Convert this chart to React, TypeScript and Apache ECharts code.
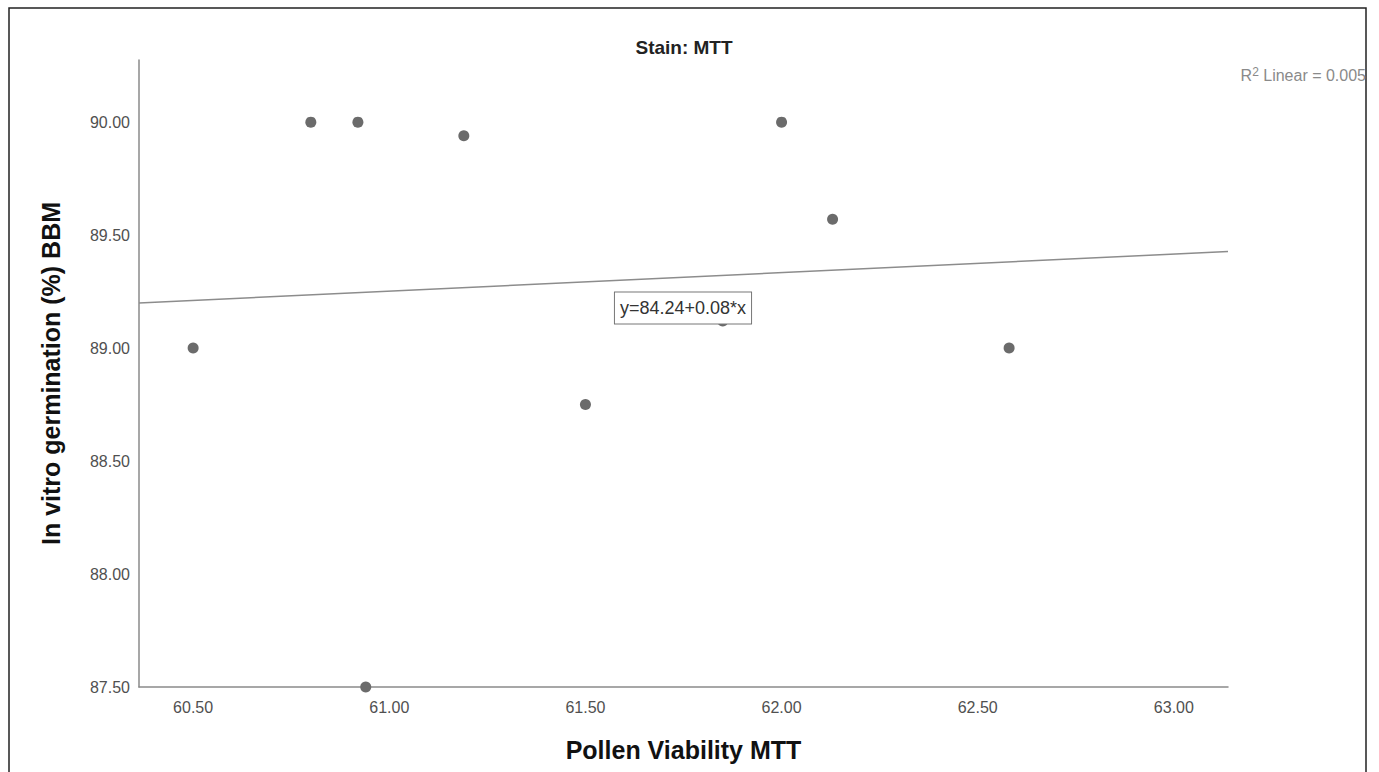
import React, { useEffect, useRef } from "react";
import * as echarts from "echarts";

const pollenViability: number[] = [60.5, 60.8, 60.92, 61.19, 62.0, 62.13, 61.5, 61.85, 62.58, 60.94];
const germination: number[] = [89.0, 90.0, 90.0, 89.94, 90.0, 89.57, 88.75, 89.12, 89.0, 87.5];
const xTicks: number[] = [60.5, 61.0, 61.5, 62.0, 62.5, 63.0];
const yTicks: number[] = [87.5, 88.0, 88.5, 89.0, 89.5, 90.0];
const xRange: number[] = [60.362, 63.138];
const yRange: number[] = [87.5, 90.275];
const titleText = "Stain: MTT";
const equationText = "y=84.24+0.08*x";
const rSquaredValue = "0.005";

const FONT = "Liberation Sans, Arial, sans-serif";

function regression(xs: number[], ys: number[]) {
  const n = xs.length;
  const mx = xs.reduce((a, b) => a + b, 0) / n;
  const my = ys.reduce((a, b) => a + b, 0) / n;
  let sxy = 0;
  let sxx = 0;
  for (let i = 0; i < n; i++) {
    sxy += (xs[i] - mx) * (ys[i] - my);
    sxx += (xs[i] - mx) * (xs[i] - mx);
  }
  const slope = sxy / sxx;
  return { slope, intercept: my - slope * mx };
}

export default function App() {
  const ref = useRef<HTMLDivElement>(null);
  useEffect(() => {
    if (!ref.current) return;
    const chart = echarts.init(ref.current, undefined, { renderer: "svg" });
    const { slope, intercept } = regression(pollenViability, germination);
    const fitLine = xRange.map((x) => [x, intercept + slope * x]);
    chart.setOption({
      animation: false,
      backgroundColor: "#ffffff",
      title: {
        text: titleText,
        left: 679,
        top: 33,
        textAlign: "center",
        textStyle: { fontFamily: FONT, fontSize: 19, fontWeight: "bold", color: "#222" },
      },
      grid: { left: 139, right: 151, top: 60, bottom: 85 },
      xAxis: {
        type: "value",
        min: xRange[0],
        max: xRange[1],
        name: "Pollen Viability MTT",
        nameLocation: "middle",
        nameGap: 50,
        nameTextStyle: { fontFamily: FONT, fontSize: 25, fontWeight: "bold", color: "#111" },
        axisLine: { show: true, lineStyle: { color: "#8a8a8a", width: 1.5 } },
        axisTick: { show: false },
        splitLine: { show: false },
        axisLabel: {
          customValues: xTicks,
          formatter: (v: number) => v.toFixed(2),
          fontFamily: FONT,
          fontSize: 16,
          color: "#505050",
          margin: 12,
        },
      },
      yAxis: {
        type: "value",
        min: yRange[0],
        max: yRange[1],
        name: "In vitro germination (%) BBM",
        nameLocation: "middle",
        nameGap: 76,
        nameTextStyle: { fontFamily: FONT, fontSize: 25, fontWeight: "bold", color: "#111" },
        axisLine: { show: true, lineStyle: { color: "#8a8a8a", width: 1.5 } },
        axisTick: { show: false },
        splitLine: { show: false },
        axisLabel: {
          customValues: yTicks,
          formatter: (v: number) => v.toFixed(2),
          fontFamily: FONT,
          fontSize: 16,
          color: "#505050",
          margin: 9,
        },
      },
      series: [
        {
          type: "line",
          data: fitLine,
          showSymbol: false,
          symbol: "none",
          lineStyle: { color: "#8c8c8c", width: 1.5 },
          z: 1,
          silent: true,
        },
        {
          type: "scatter",
          data: pollenViability.map((x, i) => [x, germination[i]]),
          symbolSize: 11,
          itemStyle: { color: "#6b6b6b", opacity: 1 },
          z: 2,
          clip: false,
        },
      ],
      graphic: [
        {
          type: "rect",
          shape: { x: 9, y: 8, width: 1357, height: 820 },
          style: { fill: "none", stroke: "#222", lineWidth: 1.5 },
          z: 100,
          silent: true,
        },
        {
          type: "text",
          x: 683,
          y: 308,
          z: 100,
          style: {
            text: equationText,
            fontFamily: FONT,
            fontSize: 18,
            fill: "#333",
            align: "center",
            verticalAlign: "middle",
            backgroundColor: "#ffffff",
            borderColor: "#777",
            borderWidth: 1,
            padding: [7, 5, 6, 5],
          },
        },
        {
          type: "text",
          x: 1366,
          y: 75,
          z: 100,
          style: {
            text: "{a|R}{s|2}{a| Linear = " + rSquaredValue + "}",
            align: "right",
            verticalAlign: "middle",
            rich: {
              a: { fontFamily: FONT, fontSize: 16, fill: "#8a8a8a", color: "#8a8a8a" },
              s: { fontFamily: FONT, fontSize: 12, fill: "#8a8a8a", color: "#8a8a8a", verticalAlign: "top", padding: [0, 0, 7, 0] },
            },
          },
        },
      ],
    });
    return () => chart.dispose();
  }, []);
  return (
    <div
      ref={ref}
      style={{ position: "absolute", left: 0, top: 0, width: 1379, height: 772 }}
    />
  );
}
